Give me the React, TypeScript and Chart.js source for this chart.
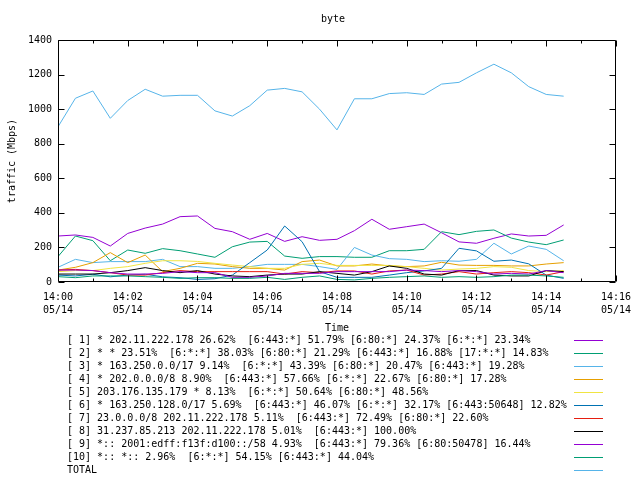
import React, { useEffect, useRef } from 'react';
import { Chart, registerables } from 'chart.js';

Chart.register(...registerables);

const chartTitle = 'byte';
const xTitle = 'Time';
const yTitle = 'traffic (Mbps)';
const dateLabel = '05/14';

const times = [
  '14:00:00', '14:00:30', '14:01:00', '14:01:30', '14:02:00', '14:02:30',
  '14:03:00', '14:03:30', '14:04:00', '14:04:30', '14:05:00', '14:05:30',
  '14:06:00', '14:06:30', '14:07:00', '14:07:30', '14:08:00', '14:08:30',
  '14:09:00', '14:09:30', '14:10:00', '14:10:30', '14:11:00', '14:11:30',
  '14:12:00', '14:12:30', '14:13:00', '14:13:30', '14:14:00', '14:14:30',
];

const s1 = [266, 272, 258, 208, 281, 312, 335, 378, 382, 310, 291, 247, 281, 235, 262, 241, 247, 297, 363, 305, 320, 335, 285, 232, 224, 253, 278, 266, 270, 330];
const s2 = [147, 266, 239, 123, 185, 166, 193, 181, 162, 143, 204, 231, 235, 150, 137, 147, 147, 143, 143, 181, 181, 189, 291, 274, 293, 301, 254, 231, 216, 243];
const s3 = [85, 131, 112, 118, 118, 118, 131, 89, 89, 79, 79, 89, 102, 102, 102, 89, 73, 200, 156, 135, 131, 118, 123, 120, 131, 224, 162, 208, 189, 123];
const s4 = [69, 85, 112, 170, 112, 156, 60, 79, 108, 104, 89, 79, 79, 69, 118, 127, 93, 93, 104, 93, 89, 93, 114, 98, 96, 96, 93, 93, 104, 112];
const s5 = [60, 66, 66, 79, 89, 108, 123, 123, 119, 108, 98, 89, 79, 79, 102, 108, 96, 96, 96, 96, 89, 79, 69, 75, 79, 89, 85, 66, 60, 66];
const s6 = [40, 35, 45, 30, 40, 45, 30, 25, 15, 19, 40, 112, 185, 324, 233, 60, 27, 27, 27, 40, 54, 64, 79, 195, 180, 120, 127, 105, 40, 21];
const s7 = [69, 73, 66, 54, 40, 40, 54, 66, 60, 60, 60, 60, 60, 46, 60, 54, 64, 64, 46, 64, 69, 40, 46, 60, 46, 54, 60, 54, 40, 60];
const s8 = [46, 46, 46, 54, 66, 83, 66, 54, 66, 46, 35, 31, 40, 46, 46, 60, 50, 40, 60, 93, 79, 46, 40, 66, 66, 40, 35, 35, 66, 60];
const s9 = [69, 69, 66, 54, 46, 46, 50, 60, 54, 54, 27, 27, 35, 50, 50, 50, 60, 60, 60, 60, 69, 66, 60, 66, 60, 46, 50, 46, 66, 54];
const s10 = [31, 25, 35, 35, 35, 31, 27, 21, 25, 25, 21, 21, 27, 15, 27, 35, 15, 12, 21, 27, 31, 35, 27, 31, 27, 31, 40, 40, 35, 27];
const total = [898, 1063, 1105, 947, 1050, 1115, 1075, 1080, 1080, 990, 960, 1020, 1110, 1120, 1100, 1000, 880, 1060, 1060, 1090, 1095, 1085, 1145, 1155, 1210, 1260, 1210, 1130, 1085, 1075];

const seriesLabels = [
  '[ 1] * 202.11.222.178 26.62%  [6:443:*] 51.79% [6:80:*] 24.37% [6:*:*] 23.34%',
  '[ 2] * * 23.51%  [6:*:*] 38.03% [6:80:*] 21.29% [6:443:*] 16.88% [17:*:*] 14.83%',
  '[ 3] * 163.250.0.0/17 9.14%  [6:*:*] 43.39% [6:80:*] 20.47% [6:443:*] 19.28%',
  '[ 4] * 202.0.0.0/8 8.90%  [6:443:*] 57.66% [6:*:*] 22.67% [6:80:*] 17.28%',
  '[ 5] 203.176.135.179 * 8.13%  [6:*:*] 50.64% [6:80:*] 48.56%',
  '[ 6] * 163.250.128.0/17 5.69%  [6:443:*] 46.07% [6:*:*] 32.17% [6:443:50648] 12.82%',
  '[ 7] 23.0.0.0/8 202.11.222.178 5.11%  [6:443:*] 72.49% [6:80:*] 22.60%',
  '[ 8] 31.237.85.213 202.11.222.178 5.01%  [6:443:*] 100.00%',
  '[ 9] *:: 2001:edff:f13f:d100::/58 4.93%  [6:443:*] 79.36% [6:80:50478] 16.44%',
  '[10] *:: *:: 2.96%  [6:*:*] 54.15% [6:443:*] 44.04%',
  'TOTAL',
];

const seriesColors = [
  '#9400D3', '#009E73', '#56B4E9', '#E69F00', '#F0E442', '#0072B2',
  '#E51E10', '#000000', '#9400D3', '#009E73', '#56B4E9',
];

const seriesValues = [s1, s2, s3, s4, s5, s6, s7, s8, s9, s10, total];

const xMin = 0;
const xMax = 16;
const yMin = 0;
const yMax = 1400;
const yStep = 200;

const FONT = "'DejaVu Sans Mono', 'Liberation Mono', monospace";

function toMinutes(t: string): number {
  const [h, m, s] = t.split(':').map(Number);
  return (h - 14) * 60 + m + s / 60;
}

const framePlugin = {
  id: 'gnuplotFrame',
  afterDraw(chart: any) {
    const { ctx, chartArea } = chart;
    const { left, right, top, bottom } = chartArea;
    const xs = chart.scales.x;
    const ys = chart.scales.y;
    ctx.save();
    ctx.strokeStyle = '#000';
    ctx.lineWidth = 1;
    const L = Math.round(left) + 0.5;
    const R = Math.round(right) - 0.5;
    const T = Math.round(top) + 0.5;
    const B = Math.round(bottom) - 0.5;
    ctx.beginPath();
    ctx.rect(L, T, R - L, B - T);
    for (let m = xMin; m <= xMax; m++) {
      const px = Math.round(xs.getPixelForValue(m)) + 0.5;
      const len = m % 2 === 0 ? 6 : 3;
      ctx.moveTo(px, B);
      ctx.lineTo(px, B - len);
      ctx.moveTo(px, T);
      ctx.lineTo(px, T + len);
    }
    for (let v = yMin; v <= yMax; v += yStep) {
      const py = Math.round(ys.getPixelForValue(v)) + 0.5;
      ctx.moveTo(L, py);
      ctx.lineTo(L + 6, py);
      ctx.moveTo(R, py);
      ctx.lineTo(R - 6, py);
    }
    ctx.stroke();

    ctx.fillStyle = '#000';
    ctx.font = `10px ${FONT}`;
    ctx.textAlign = 'center';
    ctx.textBaseline = 'middle';
    const cx = (left + right) / 2;
    ctx.fillText(chartTitle, cx - 4, 19);
    ctx.fillText(xTitle, cx, 328);
    ctx.save();
    ctx.translate(12, (top + bottom) / 2);
    ctx.rotate(-Math.PI / 2);
    ctx.fillText(yTitle, 0, 0);
    ctx.restore();

    ctx.textAlign = 'left';
    chart.data.datasets.forEach((ds: any, k: number) => {
      const yy = 340 + 13 * k;
      ctx.fillStyle = '#000';
      ctx.fillText(ds.label, 67, yy);
      ctx.strokeStyle = ds.borderColor;
      ctx.beginPath();
      ctx.moveTo(574, Math.round(yy) + 0.5);
      ctx.lineTo(603, Math.round(yy) + 0.5);
      ctx.stroke();
    });
    ctx.restore();
  },
};

export default function App() {
  const ref = useRef<HTMLCanvasElement | null>(null);

  useEffect(() => {
    if (!ref.current) return;
    const xs = times.map(toMinutes);
    const datasets = seriesValues.map((vals, i) => ({
      label: seriesLabels[i],
      data: vals.map((v, j) => ({ x: xs[j], y: v })),
      borderColor: seriesColors[i],
      backgroundColor: seriesColors[i],
      borderWidth: 1,
      pointRadius: 0,
      tension: 0,
      fill: false,
      order: seriesValues.length - i,
    }));
    const chart = new Chart(ref.current, {
      type: 'line',
      data: { datasets },
      options: {
        animation: false,
        responsive: false,
        devicePixelRatio: 1,
        layout: { padding: { top: 40, right: 19, bottom: 0, left: 0 } },
        plugins: {
          legend: { display: false },
          title: { display: false },
          tooltip: { enabled: false },
        },
        scales: {
          x: {
            type: 'linear',
            min: xMin,
            max: xMax,
            grid: { display: false, drawTicks: false },
            border: { display: false },
            ticks: {
              stepSize: 2,
              autoSkip: false,
              maxRotation: 0,
              padding: 9,
              color: '#000',
              font: { family: FONT, size: 10, lineHeight: 1.3 },
              callback: (value: any) => {
                const m = Number(value);
                return [`14:${String(m).padStart(2, '0')}`, dateLabel];
              },
            },
            afterFit: (scale: any) => {
              scale.height = 198;
            },
          },
          y: {
            min: yMin,
            max: yMax,
            grid: { display: false, drawTicks: false },
            border: { display: false },
            ticks: {
              stepSize: yStep,
              padding: 6,
              color: '#000',
              font: { family: FONT, size: 10 },
              callback: (value: any) => String(value),
            },
            afterFit: (scale: any) => {
              scale.width = 58;
            },
          },
        },
      },
      plugins: [framePlugin],
    });
    return () => chart.destroy();
  }, []);

  return (
    <div style={{ position: 'absolute', left: 0, top: 0, width: 640, height: 480, background: '#fff' }}>
      <canvas ref={ref} width={640} height={480} />
    </div>
  );
}
